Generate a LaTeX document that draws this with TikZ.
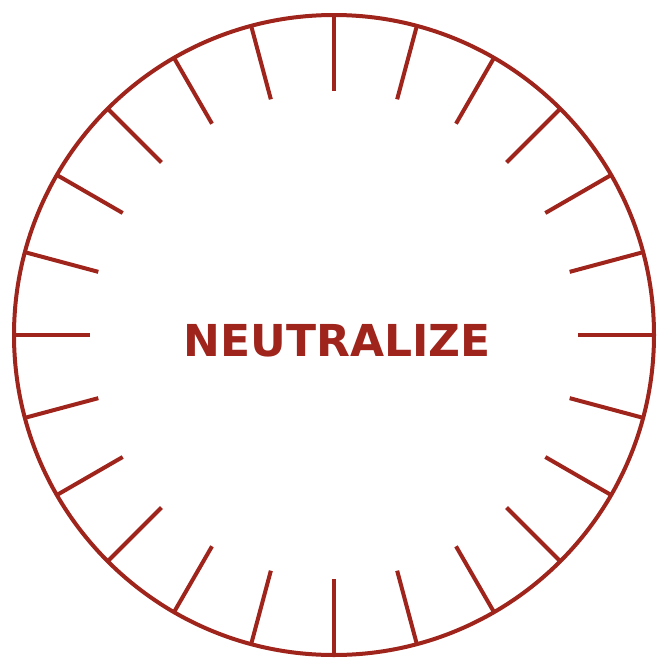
\documentclass[tikz,border=0pt]{standalone}
\usepackage{fontspec}
\usetikzlibrary{calc}
\newfontfamily\dejabold{DejaVu Sans}[BoldFont={DejaVu Sans Bold}]
\definecolor{dial}{RGB}{158,36,28}
\begin{document}
\begin{tikzpicture}[x=1pt,y=1pt,
  rim/.style={draw=dial,line width=4pt},
  tick/.style={draw=dial,line width=4pt},
  label/.style={text=dial,font=\dejabold\bfseries\fontsize{44}{44}\selectfont,inner sep=0pt}]
\useasboundingbox (0,0) rectangle (657,-659);
\coordinate (c) at (334,-335);
\draw[rim] (c) circle (320);
\foreach \a in {0,15,...,345}{
  \coordinate (o\a) at ($(c)+(\a:319)$);
  \coordinate (i\a) at ($(c)+(\a:244)$);
  \draw[tick] (o\a) -- (i\a);
}
\node[label] (t) at (337,-341) {NEUTRALIZE};
\end{tikzpicture}
\end{document}
